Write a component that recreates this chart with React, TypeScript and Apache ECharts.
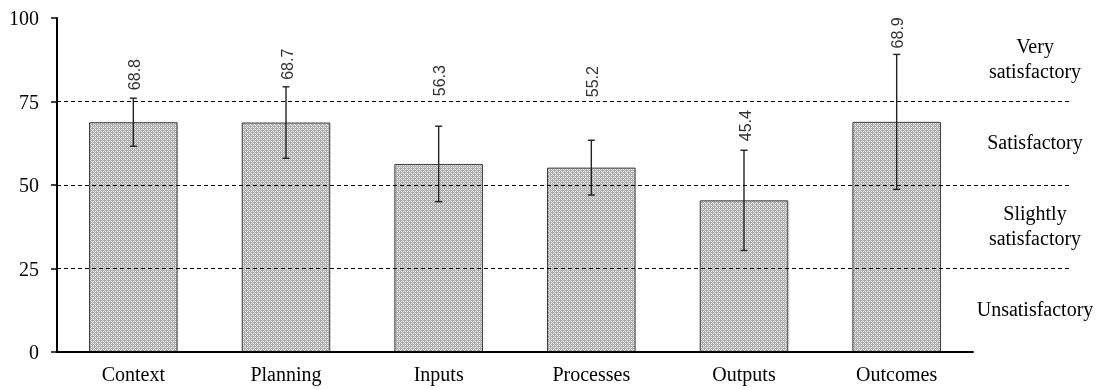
import React, { useEffect, useRef } from "react";
import * as echarts from "echarts";

const categories = ["Context", "Planning", "Inputs", "Processes", "Outputs", "Outcomes"];
const means = [68.8, 68.7, 56.3, 55.2, 45.4, 68.9];
const errors = [7.2, 10.7, 11.3, 8.2, 15.0, 20.2];
const thresholds = [25, 50, 75];
const bandNames = ["Unsatisfactory", "Slightly\nsatisfactory", "Satisfactory", "Very\nsatisfactory"];
const bandMids = [12.5, 37.5, 62.5, 87.5];

// style: pixel gap between error-bar top and rotated value label
const labelGap = [8, 7, 30, 43, 9, 6];

const SERIF = "'Liberation Serif', 'DejaVu Serif', serif";
const SANS = "'Liberation Sans', Arial, sans-serif";

function makePattern() {
  const c = document.createElement("canvas");
  c.width = 4;
  c.height = 4;
  const ctx = c.getContext("2d")!;
  ctx.fillStyle = "#acacac";
  ctx.fillRect(0, 0, 4, 4);
  ctx.fillStyle = "#eeeeee";
  ctx.fillRect(1, 1, 1, 1);
  ctx.fillRect(3, 3, 1, 1);
  ctx.fillRect(1, 3, 1, 1);
  ctx.fillRect(3, 1, 1, 1);
  ctx.fillStyle = "#d4d4d4";
  ctx.fillRect(0, 2, 1, 1);
  ctx.fillRect(2, 0, 1, 1);
  return c;
}

export default function App() {
  const ref = useRef<HTMLDivElement>(null);
  useEffect(() => {
    if (!ref.current) return;
    const chart = echarts.init(ref.current, undefined, { renderer: "svg" });
    const pattern = makePattern();
    const errData = categories.map((_, i) => [i, means[i] - errors[i], means[i] + errors[i], means[i]]);
    chart.setOption({
      animation: false,
      grid: [
        { left: 57, right: 132, top: 18, bottom: 38 },
        { left: 57, right: 33, top: 18, bottom: 38 },
      ],
      xAxis: [
        {
          type: "category",
          gridIndex: 0,
          data: categories,
          axisLine: { show: true, lineStyle: { color: "#000", width: 2 } },
          axisTick: { show: false },
          axisLabel: { color: "#000", fontFamily: SERIF, fontSize: 20, margin: 12 },
          splitLine: { show: false },
          z: 5,
        },
        { type: "value", gridIndex: 1, min: 0, max: 1, show: false },
      ],
      yAxis: [
        {
          type: "value",
          gridIndex: 0,
          min: 0,
          max: 100,
          interval: 25,
          axisLine: { show: true, lineStyle: { color: "#000", width: 2 } },
          axisTick: { show: true, length: 6, inside: false, lineStyle: { color: "#000", width: 1.5 } },
          axisLabel: { color: "#000", fontFamily: SERIF, fontSize: 20, margin: 18 },
          splitLine: { show: false },
          z: 5,
        },
        { type: "value", gridIndex: 1, min: 0, max: 100, show: false },
      ],
      series: [
        {
          type: "line",
          xAxisIndex: 1,
          yAxisIndex: 1,
          data: [],
          silent: true,
          markLine: {
            silent: true,
            symbol: "none",
            label: { show: false },
            lineStyle: { color: "#000", width: 1, type: [4, 3] },
            data: thresholds.map((v) => ({ yAxis: v })),
          },
        },
        {
          type: "bar",
          xAxisIndex: 0,
          yAxisIndex: 0,
          data: means,
          barWidth: "58%",
          itemStyle: {
            color: { image: pattern, repeat: "repeat" },
            borderColor: "#3a3a3a",
            borderWidth: 1,
          },
          z: 2,
        },
        {
          type: "custom",
          xAxisIndex: 0,
          yAxisIndex: 0,
          clip: false,
          z: 4,
          data: errData,
          renderItem: (params: any, api: any) => {
            const x = api.value(0);
            const lo = api.coord([x, api.value(1)]);
            const hi = api.coord([x, api.value(2)]);
            const m = api.value(3);
            const cap = 3.5;
            const st = { stroke: "#222", lineWidth: 1.4 };
            return {
              type: "group",
              children: [
                { type: "line", shape: { x1: hi[0], y1: hi[1], x2: lo[0], y2: lo[1] }, style: st },
                { type: "line", shape: { x1: hi[0] - cap, y1: hi[1], x2: hi[0] + cap, y2: hi[1] }, style: st },
                { type: "line", shape: { x1: lo[0] - cap, y1: lo[1], x2: lo[0] + cap, y2: lo[1] }, style: st },
                {
                  type: "text",
                  x: hi[0] + 1,
                  y: hi[1] - labelGap[params.dataIndex],
                  rotation: Math.PI / 2,
                  style: {
                    text: Number(m).toFixed(1),
                    font: `16px ${SANS}`,
                    fill: "#333",
                    align: "left",
                    verticalAlign: "middle",
                  },
                },
              ],
            };
          },
        },
      ],
    });
    const graphics = bandNames.map((name, i) => {
      const py = chart.convertToPixel({ yAxisIndex: 1 } as any, bandMids[i]) as number;
      return {
        type: "text",
        x: 1035,
        y: py - 1,
        style: {
          text: name,
          font: `20px ${SERIF}`,
          fill: "#000",
          align: "center",
          verticalAlign: "middle",
          lineHeight: 25,
        },
      };
    });
    chart.setOption({ graphic: graphics });
    return () => chart.dispose();
  }, []);
  return <div ref={ref} style={{ position: "fixed", left: 0, top: 0, width: 1105, height: 390 }} />;
}
